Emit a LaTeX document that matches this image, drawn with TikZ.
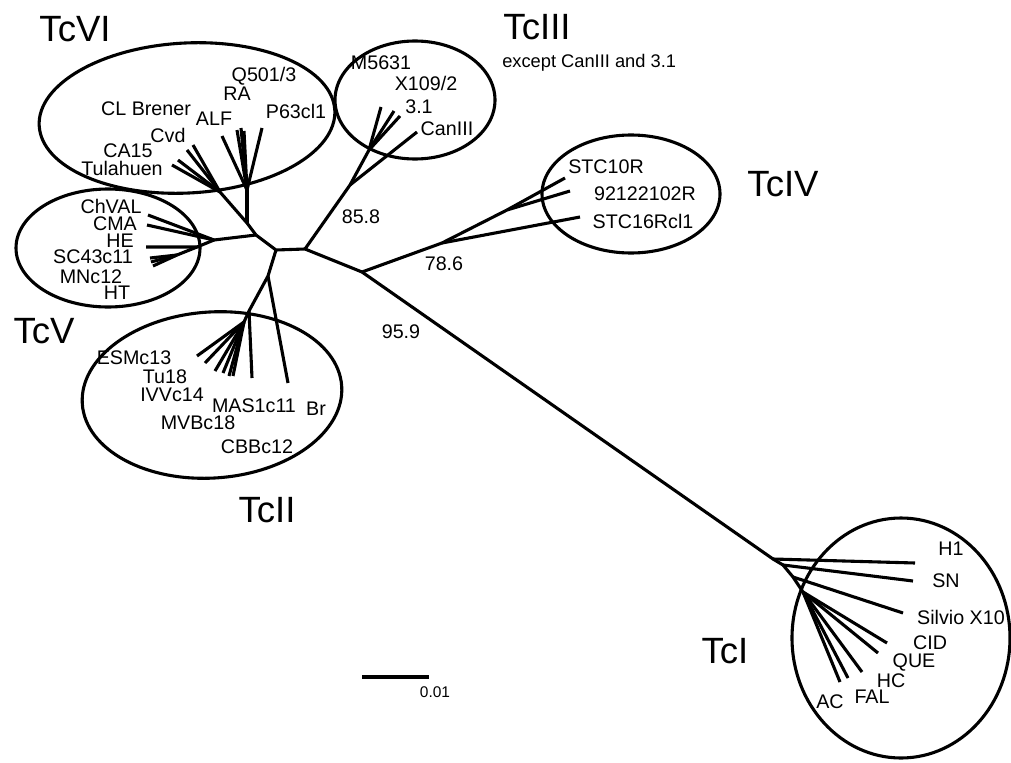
\documentclass[tikz,border=0pt]{standalone}
\usepackage{fontspec}
\setmainfont{Liberation Sans}
\begin{document}
\begin{tikzpicture}[x=0.025cm, y=-0.025cm, line join=round,
        branch/.style={line width=2.2pt},
        clade/.style={draw, line width=2.2pt},
        leaf/.style={font=\fontsize{14}{16}\selectfont, inner sep=0pt, anchor=base},
        group/.style={font=\fontsize{26}{30}\selectfont, inner sep=0pt, anchor=base}]
            \useasboundingbox (0,0) rectangle (1011,762);
            % inner branch points
            \coordinate (a) at (256,235);
            \coordinate (b) at (276,250);
            \coordinate (c) at (305,249);
            \coordinate (d) at (362,272);
            \draw[branch] (a) -- (b) -- (c) -- (d);
            % TcV
            \coordinate (v0) at (214,240);
            \coordinate (v1) at (197,247);
            \coordinate (v2) at (177,255);
            \coordinate (tChVAL) at (148,215);
            \coordinate (tCMA) at (147,225);
            \coordinate (tHE) at (146,247);
            \coordinate (tSC) at (150,258);
            \coordinate (tMN) at (151,262);
            \coordinate (tHT) at (153,266);
            \draw[branch] (a) -- (v0);
            \draw[branch] (v0) -- (tChVAL);
            \draw[branch] (v0) -- (tCMA);
            \draw[branch] (v0) -- (v1) -- (tHE);
            \draw[branch] (v1) -- (v2);
            \draw[branch] (v2) -- (tSC);
            \draw[branch] (v2) -- (tMN);
            \draw[branch] (v2) -- (tHT);
            % TcVI
            \coordinate (s6) at (247,223);
            \coordinate (s6L) at (220,192);
            \coordinate (s6R) at (247,190);
            \coordinate (tTul) at (172,165);
            \coordinate (tCA) at (178,160);
            \coordinate (tCvd) at (187,150);
            \coordinate (tCL) at (193,145);
            \coordinate (tALF) at (222,136);
            \coordinate (tRA) at (237,130);
            \coordinate (tQ) at (241,128);
            \coordinate (tQb) at (244,131);
            \coordinate (tP63) at (262,128);
            \draw[branch] (a) -- (s6) -- (s6L);
            \draw[branch] (s6) -- (s6R);
            \draw[branch] (s6L) -- (tTul);
            \draw[branch] (s6L) -- (tCA);
            \draw[branch] (s6L) -- (tCvd);
            \draw[branch] (s6L) -- (tCL);
            \draw[branch] (s6R) -- (tALF);
            \draw[branch] (s6R) -- (tRA);
            \draw[branch] (s6R) -- (tQ);
            \draw[branch] (s6R) -- (tQb);
            \draw[branch] (s6R) -- (tP63);
            % TcII
            \coordinate (e) at (268,276);
            \coordinate (f) at (249,311);
            \coordinate (g) at (244,322);
            \coordinate (tESM) at (197,356);
            \coordinate (tTu) at (205,363);
            \coordinate (tIVV) at (215,371);
            \coordinate (tMVB) at (223,373);
            \coordinate (tCBB) at (229,376);
            \coordinate (tII6) at (233,376);
            \coordinate (tMAS) at (252,378);
            \coordinate (tBr) at (288,383);
            \draw[branch] (b) -- (e) -- (f) -- (g);
            \draw[branch] (e) -- (tBr);
            \draw[branch] (f) -- (tMAS);
            \draw[branch] (g) -- (tESM);
            \draw[branch] (g) -- (tTu);
            \draw[branch] (g) -- (tIVV);
            \draw[branch] (g) -- (tMVB);
            \draw[branch] (g) -- (tCBB);
            \draw[branch] (g) -- (tII6);
            % TcIII
            \coordinate (t3a) at (350,185);
            \coordinate (t3b) at (369,150);
            \coordinate (tM56) at (381,107);
            \coordinate (tX109) at (394,111);
            \coordinate (t31) at (400,116);
            \coordinate (tCan) at (417,132);
            \draw[branch] (c) -- (t3a) -- (t3b);
            \draw[branch] (t3a) -- (tCan);
            \draw[branch] (t3b) -- (tM56);
            \draw[branch] (t3b) -- (tX109);
            \draw[branch] (t3b) -- (t31);
            % TcIV
            \coordinate (t4) at (442,243);
            \coordinate (t4b) at (507,210);
            \coordinate (tSTC10) at (565,178);
            \coordinate (t921) at (570,191);
            \coordinate (tSTC16) at (580,217);
            \draw[branch] (d) -- (t4) -- (t4b);
            \draw[branch] (t4) -- (tSTC16);
            \draw[branch] (t4b) -- (tSTC10);
            \draw[branch] (t4b) -- (t921);
            % TcI
            \coordinate (i0) at (773,559);
            \coordinate (i1) at (783,565);
            \coordinate (i2) at (793,577);
            \coordinate (i3) at (803,592);
            \coordinate (tH1) at (915,563);
            \coordinate (tSN) at (913,581);
            \coordinate (tSil) at (903,613);
            \coordinate (tCID) at (887,643);
            \coordinate (tQUE) at (878,653);
            \coordinate (tHC) at (862,672);
            \coordinate (tFAL) at (848,678);
            \coordinate (tAC) at (840,682);
            \draw[branch] (d) -- (i0) -- (i1) -- (i2) -- (i3);
            \draw[branch] (i0) -- (tH1);
            \draw[branch] (i1) -- (tSN);
            \draw[branch] (i2) -- (tSil);
            \draw[branch] (i3) -- (tCID);
            \draw[branch] (i3) -- (tQUE);
            \draw[branch] (i3) -- (tHC);
            \draw[branch] (i3) -- (tFAL);
            \draw[branch] (i3) -- (tAC);
            % clade outlines
            \coordinate (cVI) at (187,118);
            \coordinate (cV) at (108,248);
            \coordinate (cII) at (212,395);
            \coordinate (cIII) at (415,100);
            \coordinate (cIV) at (631,194);
            \coordinate (cI) at (901,638);
            \draw[clade, rotate around={3:(cVI)}] (cVI) ellipse [x radius=148, y radius=75];
            \draw[clade] (cV) ellipse [x radius=92, y radius=59];
            \draw[clade, rotate around={4:(cII)}] (cII) ellipse [x radius=130, y radius=83];
            \draw[clade] (cIII) ellipse [x radius=80, y radius=59];
            \draw[clade] (cIV) ellipse [x radius=89, y radius=59];
            \draw[clade] (cI) ellipse [x radius=109, y radius=120];
            % group names
            \node[group] (nVI) at (75,42) {TcVI};
            \node[group] (nV) at (44,343) {TcV};
            \node[group] (nII) at (267,522) {TcII};
            \node[group] (nIII) at (537,40) {TcIII};
            \node[font=\fontsize{13}{15}\selectfont, inner sep=0pt, anchor=base west] (nexc) at (502,68) {except CanIII and 3.1};
            \node[group] (nIV) at (783,196) {TcIV};
            \node[group] (nI) at (725,663) {TcI};
            % strain names
            \node[leaf] (lQ) at (264,81) {Q501/3};
            \node[leaf] (lRA) at (237,100) {RA};
            \node[leaf] (lCL) at (146,115) {CL Brener};
            \node[leaf] (lALF) at (214,125) {ALF};
            \node[leaf] (lP63) at (296,118) {P63cl1};
            \node[leaf] (lCvd) at (168,142) {Cvd};
            \node[leaf] (lCA) at (128,157) {CA15};
            \node[leaf] (lTul) at (122,175) {Tulahuen};
            \node[leaf] (lChVAL) at (111,213) {ChVAL};
            \node[leaf] (lCMA) at (115,230) {CMA};
            \node[leaf] (lHE) at (120,247) {HE};
            \node[leaf] (lSC) at (93,263) {SC43c11};
            \node[leaf] (lMN) at (91,283) {MNc12};
            \node[leaf] (lHT) at (117,299) {HT};
            \node[leaf] (lESM) at (134,364) {ESMc13};
            \node[leaf] (lTu) at (165,383) {Tu18};
            \node[leaf] (lIVV) at (172,401) {IVVc14};
            \node[leaf] (lMAS) at (254,412) {MAS1c11};
            \node[leaf] (lBr) at (316,415) {Br};
            \node[leaf] (lMVB) at (198,429) {MVBc18};
            \node[leaf] (lCBB) at (257,453) {CBBc12};
            \node[leaf] (lM56) at (381,70) {M5631};
            \node[leaf] (lX109) at (426,91) {X109/2};
            \node[leaf] (l31) at (419,113) {3.1};
            \node[leaf] (lCan) at (447,135) {CanIII};
            \node[leaf] (lSTC10) at (606,173) {STC10R};
            \node[leaf] (l921) at (645,200) {92122102R};
            \node[leaf] (lSTC16) at (643,228) {STC16Rcl1};
            \node[leaf] (lH1) at (951,555) {H1};
            \node[leaf] (lSN) at (946,587) {SN};
            \node[leaf] (lSil) at (961,624) {Silvio X10};
            \node[leaf] (lCID) at (930,649) {CID};
            \node[leaf] (lQUE) at (914,667) {QUE};
            \node[leaf] (lHC) at (891,687) {HC};
            \node[leaf] (lFAL) at (872,703) {FAL};
            \node[leaf] (lAC) at (830,708) {AC};
            % bootstrap values
            \node[leaf] (b858) at (361,223) {85.8};
            \node[leaf] (b786) at (444,270) {78.6};
            \node[leaf] (b959) at (401,338) {95.9};
            % scale
            \coordinate (sc0) at (362,677);
            \coordinate (sc1) at (429,677);
            \draw[line width=2.8pt] (sc0) -- (sc1);
            \node[font=\fontsize{11}{13}\selectfont, inner sep=0pt, anchor=base] (lsc) at (435,697) {0.01};
        \end{tikzpicture}
\end{document}
